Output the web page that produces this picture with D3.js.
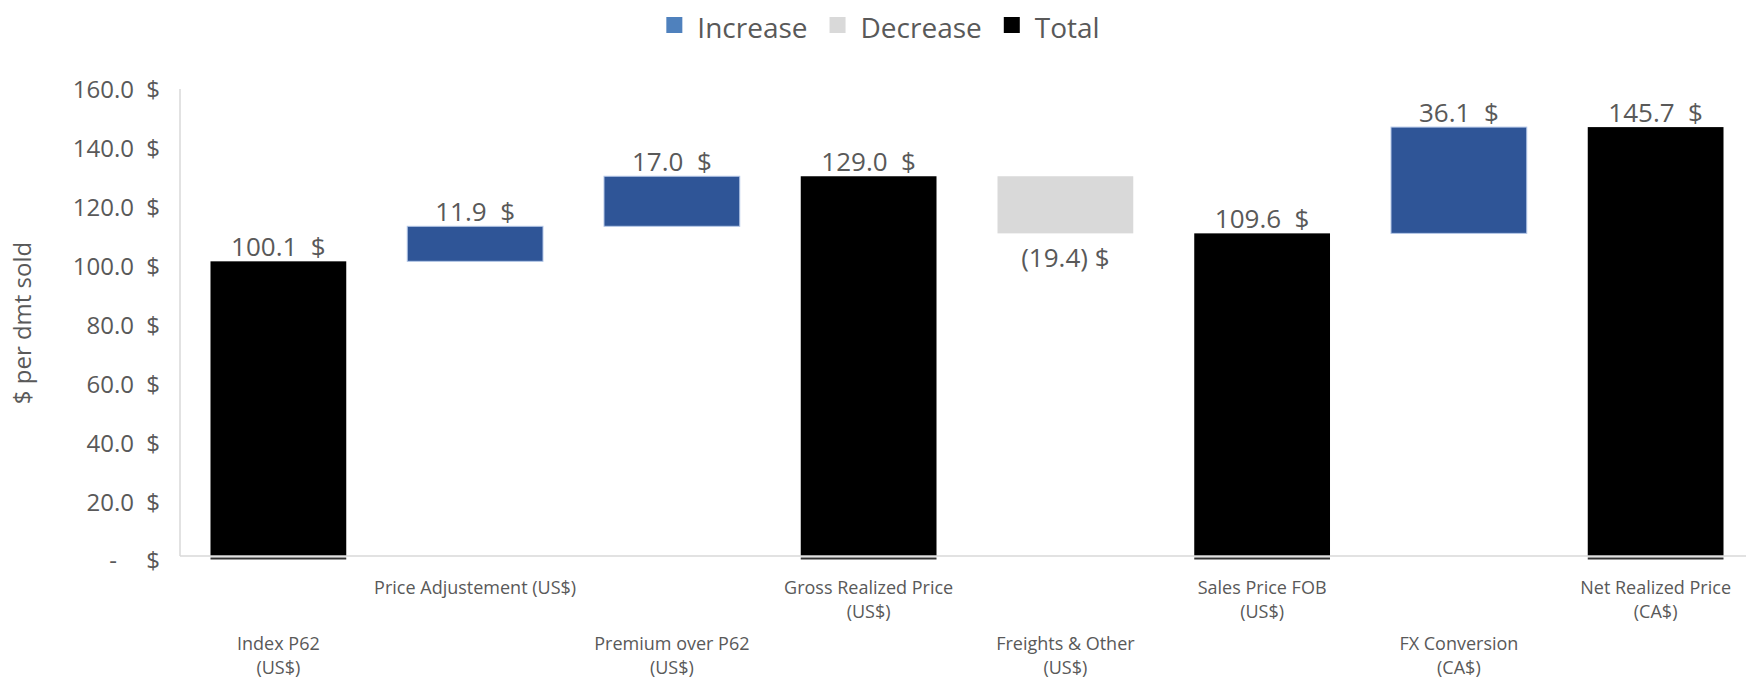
<!DOCTYPE html>
<html>
<head>
<meta charset="utf-8">
<script src="https://cdn.jsdelivr.net/npm/d3@7"></script>
<style>
  html, body { margin: 0; padding: 0; background: #fff; }
  svg { display: block; font-family: "Open Sans", "Noto Sans", sans-serif; }
</style>
</head>
<body>
<svg id="chart" width="1746" height="680"></svg>
<script>
// Waterfall: price build-up from the P62 index to the net realized price
const categories = [
  ["Index P62", "(US$)"],
  ["Price Adjustement (US$)"],
  ["Premium over P62", "(US$)"],
  ["Gross Realized Price", "(US$)"],
  ["Freights & Other", "(US$)"],
  ["Sales Price FOB", "(US$)"],
  ["FX Conversion", "(CA$)"],
  ["Net Realized Price", "(CA$)"]
];
const values = [100.1, 11.9, 17.0, 129.0, -19.4, 109.6, 36.1, 145.7];
const kinds = ["total", "increase", "increase", "total", "decrease", "total", "increase", "total"];
const yTicks = [0, 20, 40, 60, 80, 100, 120, 140, 160];
const legendItems = ["Increase", "Decrease", "Total"];
const legendKinds = ["increase", "decrease", "total"];

const W = 1746, H = 680;
const plotLeft = 180, plotRight = 1754, plotTop = 85, plotBottom = 556;
const textColor = "#595959";
const fill = { increase: "#2F5597", decrease: "#D9D9D9", total: "#000000" };
const legendFill = { increase: "#4F81BD", decrease: "#D9D9D9", total: "#000000" };

// running totals for the floating bars
let running = 0;
const bars = values.map((v, i) => {
  const kind = kinds[i];
  let lo, hi;
  if (kind === "total") { lo = 0; hi = v; running = v; }
  else { lo = Math.min(running, running + v); hi = Math.max(running, running + v); running += v; }
  return { i, v, kind, lo, hi };
});

const svg = d3.select("#chart");

const x = d3.scaleBand()
  .domain(d3.range(categories.length))
  .range([plotLeft, plotRight])
  .paddingInner(0.31)
  .paddingOuter(0.155);

const y = d3.scaleLinear().domain([0, 160]).range([plotBottom, plotTop]);

const fmt = d3.format(".1f");

// y axis: tick labels in accounting style ("100.0  $", "-  $")
const yAxis = svg.append("g").attr("class", "y-axis");
yAxis.append("line")
  .attr("x1", plotLeft).attr("x2", plotLeft)
  .attr("y1", y(160) + 4).attr("y2", y(0))
  .attr("stroke", "#D9D9D9").attr("stroke-width", 1.5);

const tickG = yAxis.selectAll("g.tick").data(yTicks).enter().append("g")
  .attr("class", "tick")
  .attr("transform", d => `translate(0,${y(d) + 7})`);
tickG.append("text")
  .attr("x", d => d === 0 ? 117 : 134)
  .attr("text-anchor", "end")
  .attr("dominant-baseline", "middle")
  .attr("font-size", 24)
  .attr("fill", textColor)
  .text(d => d === 0 ? "-" : fmt(d));
tickG.append("text")
  .attr("x", 160)
  .attr("text-anchor", "end")
  .attr("dominant-baseline", "middle")
  .attr("font-size", 24)
  .attr("fill", textColor)
  .text("$");

// y axis title
svg.append("text")
  .attr("transform", `translate(31,${323}) rotate(-90)`)
  .attr("text-anchor", "middle")
  .attr("font-size", 24)
  .attr("fill", textColor)
  .text("$ per dmt sold");

// bars
svg.append("g").selectAll("rect").data(bars).enter().append("rect")
  .attr("x", d => x(d.i))
  .attr("width", x.bandwidth())
  .attr("y", d => y(d.hi))
  .attr("height", d => y(d.lo) - y(d.hi))
  .attr("fill", d => fill[d.kind])
  .attr("stroke", d => d.kind === "increase" ? "#B4C7E7" : "none")
  .attr("stroke-width", 1);

// category axis baseline
svg.append("line")
  .attr("x1", plotLeft).attr("x2", W)
  .attr("y1", y(0)).attr("y2", y(0))
  .attr("stroke", "#D9D9D9").attr("stroke-width", 1.5);

// dark foot under the total columns, just below the baseline
svg.append("g").selectAll("line").data(bars.filter(d => d.kind === "total")).enter().append("line")
  .attr("x1", d => x(d.i)).attr("x2", d => x(d.i) + x.bandwidth())
  .attr("y1", y(0) + 2.5).attr("y2", y(0) + 2.5)
  .attr("stroke", "#333333").attr("stroke-width", 2);

// value labels
svg.append("g").selectAll("text").data(bars).enter().append("text")
  .attr("x", d => x(d.i) + x.bandwidth() / 2)
  .attr("y", d => d.kind === "decrease" ? y(d.lo) + 34 : y(d.hi) - 5)
  .attr("text-anchor", "middle")
  .attr("font-size", 26)
  .attr("fill", textColor)
  .style("white-space", "pre")
  .text(d => d.v < 0 ? `(${fmt(-d.v)}) $` : `${fmt(d.v)}  $`);

// category labels, staggered on two rows
const catG = svg.append("g").selectAll("text").data(categories).enter().append("text")
  .attr("text-anchor", "middle")
  .attr("font-size", 18)
  .attr("fill", textColor)
  .attr("transform", (d, i) => `translate(${x(i) + x.bandwidth() / 2},${i % 2 === 1 ? 594 : 650})`);
catG.selectAll("tspan").data(d => d).enter().append("tspan")
  .attr("x", 0)
  .attr("dy", (d, j) => j === 0 ? 0 : 24)
  .text(d => d);

// legend
const legend = svg.append("g");
let lx = 0;
legendItems.forEach((name, k) => {
  const g = legend.append("g").attr("transform", `translate(${lx},0)`);
  g.append("rect").attr("x", 0).attr("y", 17).attr("width", 16).attr("height", 16)
    .attr("fill", legendFill[legendKinds[k]]);
  const t = g.append("text").attr("x", 31).attr("y", 38)
    .attr("font-size", 28).attr("fill", textColor).text(name);
  lx += 31 + t.node().getComputedTextLength() + 22;
});
const legendW = lx - 22;
legend.attr("transform", `translate(${883 - legendW / 2},0)`);
</script>
</body>
</html>
